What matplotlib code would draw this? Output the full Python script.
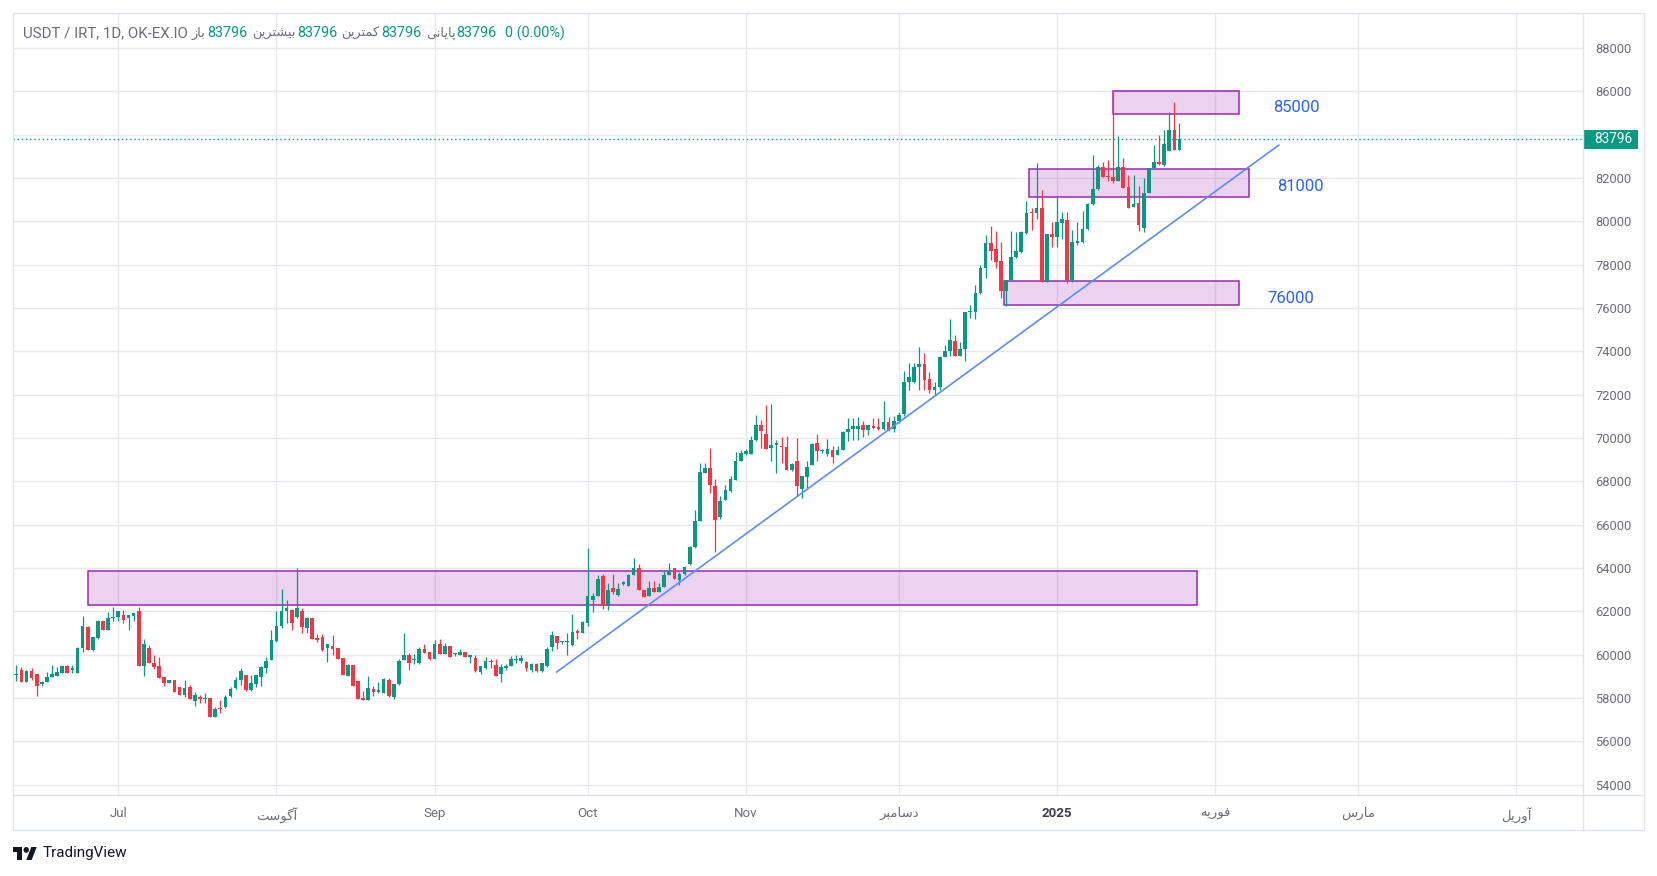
import matplotlib
matplotlib.use("Agg")
import matplotlib.pyplot as plt
import matplotlib.transforms as mtransforms
from matplotlib.patches import Rectangle, Polygon, Circle
import numpy as np
import pandas as pd

plt.rcParams['font.family'] = ['Roboto', 'DejaVu Sans']

# daily USDT/IRT candles, first candle 2024-06-11
start = pd.Timestamp('2024-06-11')

opens = [59090, 59305, 58766, 59274, 59100, 58658, 58766, 58997, 59028, 59182,
         59490, 59280, 59182, 60306, 61292, 60229, 60768, 61569, 61122, 61677,
         61738, 61846, 61700, 61769, 62000, 59505, 60306, 59613, 59490, 58966,
         58689, 58843, 58504, 58150, 58533, 57886, 58071, 57948, 57994, 57147,
         57520, 57609, 58102, 58487, 58841, 59072, 58379, 58656, 58995, 59411,
         59765, 60643, 61336, 62029, 62075, 61736, 62029, 61259, 61721, 60797,
         60843, 60304, 60427, 60335, 59842, 59026, 59534, 58793, 58000, 57923,
         58427, 58305, 58259, 58839, 58030, 58656, 59755, 59985, 59740, 59603,
         60290, 60137, 59786, 60519, 60030, 60397, 60030, 59985, 60122, 59908,
         59832, 59221, 59374, 59710, 59526, 59114, 59374, 59480, 59770, 59710,
         59650, 59300, 59557, 59267, 59480, 60366, 60855, 60570, 60570, 60462,
         61080, 61000, 61462, 62538, 62692, 63646, 62231, 63077, 62769, 63262,
         63154, 63662, 64000, 62969, 62723, 63077, 62877, 63123, 63662, 64000,
         63462, 63723, 64200, 64954, 66154, 68385, 68615, 67769, 66354, 67154,
         67538, 68077, 68923, 69277, 69277, 69892, 70615, 70200, 69538, 69692,
         69646, 69585, 68508, 68954, 67646, 68200, 68769, 69769, 69385, 69277,
         69431, 69231, 69462, 70277, 70415, 70430, 70615, 70354, 70538, 70508,
         70415, 70738, 70415, 70769, 71100, 72569, 72569, 73262, 73415, 72723,
         72231, 72354, 73738, 74000, 74462, 73769, 74108, 75800, 75815, 76692,
         77846, 79000, 78738, 78185, 76769, 77277, 78354, 78569, 79462, 80415,
         80385, 80615, 77185, 79431, 79262, 79938, 80047, 77300, 79000, 79031,
         79656, 80797, 81484, 82496, 82100, 82068, 81884, 82496, 81578, 80645,
         80844, 79696, 81303, 82450, 82756, 82603, 83261, 84240, 83292]

highs = [59536, 59430, 59300, 59382, 59120, 58797, 59197, 59521, 59428, 59550,
         59520, 59521, 60383, 61769, 61338, 60814, 61600, 61569, 61969, 62200,
         62000, 62046, 61846, 61938, 62200, 60722, 60460, 59998, 59890, 58966,
         58843, 58843, 58504, 58841, 58600, 58302, 58148, 58256, 57994, 57609,
         57917, 58148, 58533, 58995, 59380, 59072, 59072, 59072, 59488, 59888,
         61151, 62029, 63030, 62537, 62100, 64000, 62152, 61767, 61721, 60966,
         60966, 60504, 60920, 60335, 59842, 59580, 59534, 58793, 58350, 59022,
         58564, 58763, 58916, 58916, 58656, 59786, 60992, 60090, 60060, 60366,
         60488, 60137, 60702, 60748, 60549, 60397, 60106, 60290, 60122, 59985,
         59985, 59480, 59908, 59786, 59786, 59572, 59572, 59939, 59985, 59985,
         59710, 59600, 59600, 59633, 60366, 61084, 60855, 60650, 61000, 61892,
         61185, 61538, 64923, 62846, 63692, 63723, 63308, 63738, 63308, 63400,
         63738, 64462, 64200, 62969, 63415, 63385, 63308, 63877, 64231, 64000,
         63800, 64077, 65000, 66692, 68846, 68846, 69538, 68108, 67308, 67846,
         68250, 69338, 69462, 69500, 70077, 71077, 70846, 71538, 71585, 69923,
         70046, 70108, 68846, 70000, 68262, 68923, 69769, 70200, 69500, 69954,
         69615, 69615, 70308, 70923, 70923, 70969, 70800, 70615, 70923, 70923,
         71723, 70954, 71031, 71200, 73077, 73462, 73462, 74200, 73923, 73031,
         72600, 73800, 74308, 75492, 74769, 74415, 75800, 76154, 77077, 78000,
         79385, 79800, 79538, 79031, 77308, 79538, 79492, 79538, 80923, 80615,
         82692, 81431, 79431, 79954, 81154, 80438, 80438, 79625, 79969, 80484,
         80859, 83050, 82600, 82756, 82833, 86000, 83935, 82909, 82144, 82144,
         81640, 82022, 82450, 83521, 83980, 84210, 85051, 85510, 84546]

lows = [58812, 58766, 58766, 58843, 58119, 58581, 58766, 58997, 59000, 59150,
        59182, 59182, 59182, 60152, 60229, 60198, 60740, 61122, 61122, 61538,
        61538, 61461, 61153, 61538, 59505, 59043, 59613, 59336, 58951, 58566,
        58689, 58304, 58150, 58071, 57948, 57655, 57794, 57794, 57116, 57116,
        57332, 57532, 58071, 58410, 58610, 58348, 58348, 58533, 58564, 59149,
        59765, 60612, 61243, 61459, 61151, 61700, 61028, 61028, 60735, 60612,
        60196, 59657, 59996, 59796, 59072, 59026, 58564, 57953, 57920, 57923,
        58106, 58259, 58259, 58030, 57953, 58610, 59755, 59297, 59572, 59572,
        60106, 59755, 59786, 60030, 60030, 59877, 59953, 59985, 59908, 59602,
        59221, 59114, 59328, 59374, 59022, 58763, 59282, 59480, 59602, 59602,
        59267, 59220, 59200, 59221, 59450, 60198, 60290, 60500, 60000, 60420,
        60723, 61000, 61308, 61954, 62692, 62108, 62046, 62815, 62723, 63200,
        63154, 63662, 62969, 62646, 62723, 62877, 62877, 63123, 63662, 63492,
        63231, 63692, 64154, 64923, 66154, 68385, 67462, 64723, 66262, 67154,
        67500, 68046, 68923, 69200, 69246, 69846, 69538, 69508, 68923, 68385,
        68846, 68508, 68462, 67308, 67231, 67692, 68769, 68954, 69300, 69185,
        68846, 69231, 69462, 69846, 69923, 69923, 70062, 70154, 70430, 70354,
        70385, 70338, 70277, 70700, 71000, 72231, 72538, 72231, 72231, 72100,
        72000, 72200, 73738, 73769, 73769, 73769, 73538, 75538, 75508, 76662,
        77385, 78231, 77846, 76462, 76077, 77277, 78308, 78538, 79431, 79615,
        80100, 77185, 77185, 78800, 78800, 79188, 77150, 77200, 78900, 79000,
        79600, 80750, 81456, 82068, 81869, 81762, 81884, 81563, 80614, 80645,
        79543, 79498, 81303, 82450, 82603, 82557, 83261, 83292, 83292]

closes = [59110, 58766, 59274, 58951, 58581, 58735, 58966, 59120, 59213, 59490,
          59182, 59380, 60306, 61338, 60229, 60814, 61569, 61122, 61692, 61738,
          62000, 61600, 61846, 61938, 59505, 60491, 59613, 59459, 58951, 58689,
          58843, 58304, 58150, 58487, 57948, 58148, 57948, 58025, 57116, 57501,
          57480, 58071, 58425, 58841, 59257, 58379, 58687, 59072, 59426, 59719,
          60689, 61336, 62029, 62152, 61490, 62152, 61305, 61721, 60735, 60689,
          60227, 60504, 60258, 59796, 59072, 59534, 58564, 57953, 57920, 58488,
          58305, 58380, 58885, 58076, 58656, 59710, 59985, 59633, 59770, 60290,
          60106, 59786, 60488, 60030, 60397, 59877, 60060, 60122, 59908, 59985,
          59267, 59480, 59710, 59650, 59022, 59419, 59480, 59786, 59800, 59862,
          59374, 59557, 59252, 59633, 60290, 60900, 60549, 60600, 60600, 61046,
          61000, 61492, 62692, 62723, 63508, 62231, 63000, 62877, 63046, 63354,
          63692, 64000, 62969, 62646, 63077, 62877, 63123, 63692, 63877, 63492,
          63738, 64046, 64969, 66154, 68415, 68615, 67815, 66200, 67108, 67585,
          68108, 68954, 69308, 69385, 69923, 70615, 70308, 69508, 69692, 69769,
          69585, 68508, 68815, 67769, 68262, 68662, 69738, 69385, 69430, 69508,
          69108, 69462, 70277, 70431, 70538, 70540, 70354, 70615, 70462, 70415,
          70738, 70354, 70800, 71077, 72569, 72815, 73277, 73415, 72692, 72231,
          72354, 73738, 74000, 74508, 73769, 74108, 75800, 75815, 76692, 77846,
          79000, 78615, 78108, 76769, 77308, 78354, 78646, 79492, 80385, 80385,
          80615, 77185, 79431, 79262, 79969, 80094, 77300, 79063, 79094, 79656,
          80797, 81484, 82496, 82068, 82068, 81884, 82496, 81563, 80614, 80813,
          79819, 81303, 82450, 82756, 82649, 83567, 84210, 83292, 83796]

last_price = 83796

# support / resistance boxes drawn on the chart
zone_starts = ['2024-06-25', '2025-01-12', '2024-12-26 12:00', '2024-12-21 14:00']
zone_ends = ['2025-01-28 12:00', '2025-02-05 14:00', '2025-02-07 17:00', '2025-02-05 14:00']
zone_lows = [62300, 84975, 81120, 76150]
zone_highs = [63850, 86000, 82410, 77230]

level_labels = ['85000', '81000', '76000']
level_prices = [85250, 81600, 76460]
level_dates = ['2025-02-16 21:00', '2025-02-17 19:00', '2025-02-15 21:00']

trend_dates = ['2024-09-24 19:00', '2025-02-13 14:00']
trend_prices = [59185, 83542]

tick_dates = ['2024-07-01', '2024-08-01', '2024-09-01', '2024-10-01', '2024-11-01',
              '2024-12-01', '2025-01-01', '2025-02-01', '2025-03-01', '2025-04-01']
# Persian month names written in presentation forms, visual order
tick_labels = ['Jul', '\uFE96\uFEB3\uFEEE\uFB94\uFE81', 'Sep', 'Oct', 'Nov',
               '\uFEAE\uFE92\uFEE3\uFE8E\uFEB3\uFEA9', '2025',
               '\uFEEA\uFBFE\uFEAD\uFEEE\uFED3', '\uFEB1\uFEAD\uFE8E\uFEE3',
               '\uFEDE\uFBFE\uFEAD\uFEED\uFE81']
price_ticks = list(range(54000, 88001, 2000))


def day(s):
    return (pd.Timestamp(s) - start) / pd.Timedelta(days=1)


GREEN = '#089981'
RED = '#f23645'
GRID = '#e6e8ee'
TXT = '#6a6d78'

W, H = 1658, 876
fig = plt.figure(figsize=(W / 100, H / 100), dpi=100)
fig.patch.set_facecolor('white')

L, R, T, B = 13, 1583, 13, 795
ax = fig.add_axes([L / W, 1 - B / H, (R - L) / W, (B - T) / H])
ax.set_xlim(-0.64, 307.1)
ax.set_ylim(53530, 89620)

o = np.array(opens, float)
h = np.array(highs, float)
lo = np.array(lows, float)
c = np.array(closes, float)
x = np.arange(len(c), dtype=float)
up = c >= o
cols = np.where(up, GREEN, RED)

ax.vlines(x, lo, h, colors=cols, lw=0.9, zorder=3)
body_h = np.maximum(np.abs(c - o), 45)
ax.bar(x, body_h, bottom=np.minimum(o, c), width=0.72, color=cols, lw=0, zorder=4)

for s, e, zl, zh in zip(zone_starts, zone_ends, zone_lows, zone_highs):
    ax.add_patch(Rectangle((day(s), zl), day(e) - day(s), zh - zl,
                           facecolor='#9c27b0', alpha=0.2, lw=0, zorder=2))
    ax.add_patch(Rectangle((day(s), zl), day(e) - day(s), zh - zl,
                           facecolor='none', edgecolor='#9c27b0', lw=1.1, zorder=2.5))

ax.plot([day(d) for d in trend_dates], trend_prices, color='#5b8df6', lw=1.2,
        zorder=5, solid_capstyle='butt')

for lab, p, d in zip(level_labels, level_prices, level_dates):
    ax.text(day(d), p, lab, color='#2962ff', fontsize=12, ha='center', va='center',
            zorder=6)

ax.axhline(last_price, color=GREEN, lw=1, ls=(0, (1, 2)), zorder=5)

# grid and axes; the 84000 label sits under the last price tag
ax.set_xticks([day(d) for d in tick_dates])
ax.set_xticklabels(tick_labels)
ax.set_yticks(price_ticks)
ax.set_yticklabels(['' if abs(p - last_price) < 600 else str(p) for p in price_ticks])
ax.grid(True, color=GRID, lw=1, zorder=0)
ax.set_axisbelow(True)
ax.yaxis.tick_right()
ax.tick_params(axis='y', length=0, pad=9, labelsize=9.3, labelcolor=TXT)
ax.tick_params(axis='x', length=0, pad=8.5, labelsize=9.5, labelcolor=TXT)
for lab in ax.get_xticklabels():
    if lab.get_text() == '2025':
        lab.set_fontweight('bold')
        lab.set_color('#3c3f4a')
for sp in ax.spines.values():
    sp.set_visible(False)

# last price tag on the price scale
blend = mtransforms.blended_transform_factory(ax.transAxes, ax.transData)
ax.add_patch(Rectangle((1.0, last_price - 430), 55 / (R - L), 860, transform=blend,
                       facecolor=GREEN, lw=0, clip_on=False, zorder=6))
ax.text(1.0 + 30.5 / (R - L), last_price, str(last_price), transform=blend,
        color='white', fontsize=9.8, ha='center', va='center', clip_on=False, zorder=7)

# frame lines of the widget
fr = '#e0e3eb'
fig.add_artist(Rectangle((L / W, 1 - 830 / H), (1644 - L) / W, (830 - T) / H,
                         transform=fig.transFigure, fill=False, edgecolor=fr, lw=1))
fig.add_artist(plt.Line2D([L / W, 1644 / W], [1 - B / H, 1 - B / H],
                          transform=fig.transFigure, color=fr, lw=1))
fig.add_artist(plt.Line2D([R / W, R / W], [1 - 830 / H, 1 - T / H],
                          transform=fig.transFigure, color=fr, lw=1))

# header line: (text, colour, gap before, font size)
header = [('USDT / IRT, 1D, OK-EX.IO', TXT, 0, 10.8),
          ('\uFEAF\uFE8E\uFE91', TXT, 4, 9.3), ('83796', GREEN, 2, 10.4),
          ('\uFEE6\uFBFE\uFEAE\uFE98\uFEB8\uFBFF\uFE91', TXT, 4, 9.3), ('83796', GREEN, 2, 10.4),
          ('\uFEE6\uFBFE\uFEAE\uFE98\uFEE4\uFB90', TXT, 4, 9.3), ('83796', GREEN, 2, 10.4),
          ('\uFBFD\uFEE7\uFE8E\uFBFE\uFE8E\uFB58', TXT, 4, 9.3), ('83796', GREEN, 1, 10.4),
          ('0 (0.00%)', GREEN, 8, 10.4)]
renderer = fig.canvas.get_renderer()
xpos = 23
for s, col, gap, fs in header:
    xpos += gap
    t = fig.text(xpos / W, 1 - 33 / H, s, color=col, fontsize=fs, ha='left', va='center')
    xpos = t.get_window_extent(renderer=renderer).x1

# TradingView logo
lax = fig.add_axes([12.7 / W, (H - 860) / H, 24 / W, 13 / H])
lax.set_xlim(0, 35.5)
lax.set_ylim(22, 4)
lax.axis('off')
lax.add_patch(Polygon([[14, 22], [7, 22], [7, 11], [0, 11], [0, 4], [14, 4]],
                      closed=True, color='#131722', lw=0))
lax.add_patch(Circle((20, 8), 4, color='#131722', lw=0))
lax.add_patch(Polygon([[28, 22], [20, 22], [27.5, 4], [35.5, 4]],
                      closed=True, color='#131722', lw=0))
fig.text(42.3 / W, 1 - 853.5 / H, 'TradingView', color='#131722', fontsize=11,
         ha='left', va='center')

fig.savefig('out.png', dpi=100, facecolor='white')
